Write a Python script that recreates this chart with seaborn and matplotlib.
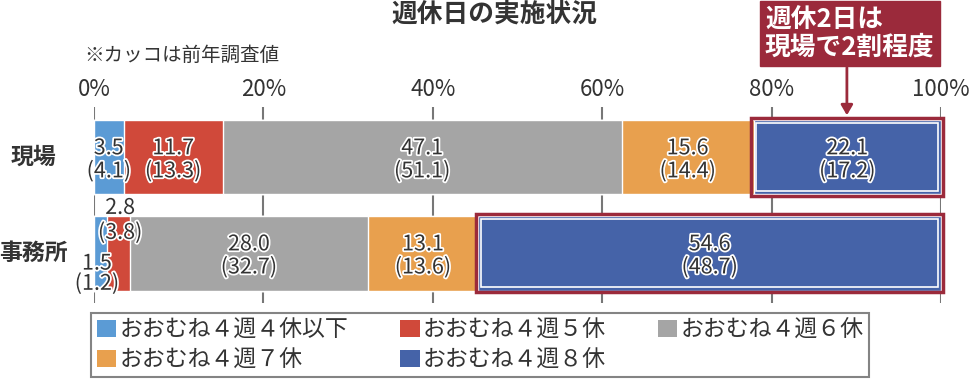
import numpy as np
import pandas as pd
import matplotlib.pyplot as plt
import matplotlib.patheffects as pe
from matplotlib.patches import Patch, Rectangle
import seaborn as sns

categories = ['現場', '事務所']
series_names = ['おおむね４週４休以下', 'おおむね４週５休', 'おおむね４週６休',
                'おおむね４週７休', 'おおむね４週８休']
current = {
    '現場':   [3.5, 11.7, 47.1, 15.6, 22.1],
    '事務所': [1.5, 2.8, 28.0, 13.1, 54.6],
}
previous = {
    '現場':   [4.1, 13.3, 51.1, 14.4, 17.2],
    '事務所': [1.2, 3.8, 32.7, 13.6, 48.7],
}
colors = ['#5B9BD5', '#D0493A', '#A5A5A5', '#E8A04E', '#4563A8']
xticks = [0, 20, 40, 60, 80, 100]
xticklabels = ['0%', '20%', '40%', '60%', '80%', '100%']

sns.set_style('white')
plt.rcParams['font.family'] = ['Noto Sans CJK JP', 'DejaVu Sans']
text_color = '#333333'
accent = '#9B2A3B'
bar_h = 0.78

fig = plt.figure(figsize=(9.69, 3.81), dpi=100)
ax = fig.add_axes([0.097, 0.2047, 0.874, 0.5144])

# stacked bars: draw cumulative totals, largest first
cum = {c: np.cumsum(current[c]) for c in categories}
for i in reversed(range(len(series_names))):
    df = pd.DataFrame({'cat': categories, 'val': [cum[c][i] for c in categories]})
    sns.barplot(data=df, x='val', y='cat', color=colors[i], orient='h',
                width=bar_h, ax=ax, saturation=1, zorder=2)

ax.set_xlim(0, 100)
ax.set_ylim(1.52, -0.52)
ax.set_xticks(xticks)
ax.set_xticklabels(xticklabels, fontsize=16, color=text_color)
ax.xaxis.tick_top()
ax.tick_params(axis='x', length=0, pad=4)
ax.set_yticks([])
ax.set_xlabel('')
ax.set_ylabel('')
for s in ax.spines.values():
    s.set_visible(False)
ax.grid(axis='x', color='#777777', lw=1.5, zorder=0)
ax.set_axisbelow(True)

# category labels
for j, c in enumerate(categories):
    ax.text(-7.1, j, c, ha='center', va='center', fontsize=16.5,
            fontweight='bold', color=text_color)

stroke = [pe.withStroke(linewidth=2.5, foreground='white')]

# value labels
special = {('事務所', 0): (0.35, 1.11, 1.32), ('事務所', 1): (3.1, 0.53, 0.79)}
for j, c in enumerate(categories):
    starts = np.concatenate([[0], cum[c][:-1]])
    for i, v in enumerate(current[c]):
        if (c, i) in special:
            x, y1, y2 = special[(c, i)]
        else:
            x = starts[i] + v / 2
            y1, y2 = j - 0.09, j + 0.15
        ax.text(x, y1, f'{v:.1f}', ha='center', va='center', fontsize=15.5,
                color=text_color, path_effects=stroke, zorder=5)
        ax.text(x, y2, f'({previous[c][i]:.1f})', ha='center', va='center',
                fontsize=15.5, color=text_color, path_effects=stroke, zorder=5)

# highlight boxes around 8-day segments
for j, c in enumerate(categories):
    x0 = cum[c][3]
    ax.add_patch(Rectangle((x0 - 0.3, j - bar_h / 2 - 0.02), 100 - x0 + 0.6,
                           bar_h + 0.04, fill=False, edgecolor=accent, lw=2.5,
                           zorder=4, clip_on=False))
    ax.add_patch(Rectangle((x0 + 0.3, j - bar_h / 2 + 0.035), 100 - x0 - 0.6,
                           bar_h - 0.07, fill=False, edgecolor='white', lw=1.2,
                           zorder=4))

# callout
fig.text(0.7895, 0.912, '週休2日は\n現場で2割程度', ha='left', va='center',
         fontsize=18.5, fontweight='bold', color='white', linespacing=1.0,
         bbox=dict(boxstyle='square,pad=0.2', fc=accent, ec=accent))
ax.annotate('', xy=(88.9, -0.405), xycoords='data',
            xytext=(0.874, 0.83), textcoords='figure fraction',
            arrowprops=dict(arrowstyle='-|>,head_width=0.35,head_length=0.6',
                            color=accent, lw=2))

# titles
fig.text(0.510, 0.962, '週休日の実施状況', ha='center', va='center',
         fontsize=18.5, fontweight='bold', color=text_color)
fig.text(0.087, 0.855, '※カッコは前年調査値', ha='left', va='center',
         fontsize=14, color=text_color)

# legend, filled row-wise
handles = [Patch(facecolor=colors[i], edgecolor='none') for i in range(5)]
order = [0, 3, 1, 4, 2]
leg = fig.legend([handles[k] for k in order], [series_names[k] for k in order],
                 ncol=3, loc='upper left', mode='expand',
                 bbox_to_anchor=(0.094, 0.0, 0.803, 0.1785),
                 fontsize=16.5, frameon=True, fancybox=False, handlelength=0.85,
                 handleheight=0.75, handletextpad=0.15, columnspacing=1.3,
                 labelspacing=0.3, borderpad=0.25, borderaxespad=0)
leg.get_frame().set_edgecolor('#666666')
leg.get_frame().set_linewidth(1.5)
for t in leg.get_texts():
    t.set_color(text_color)

fig.savefig('out.png', dpi=100)
